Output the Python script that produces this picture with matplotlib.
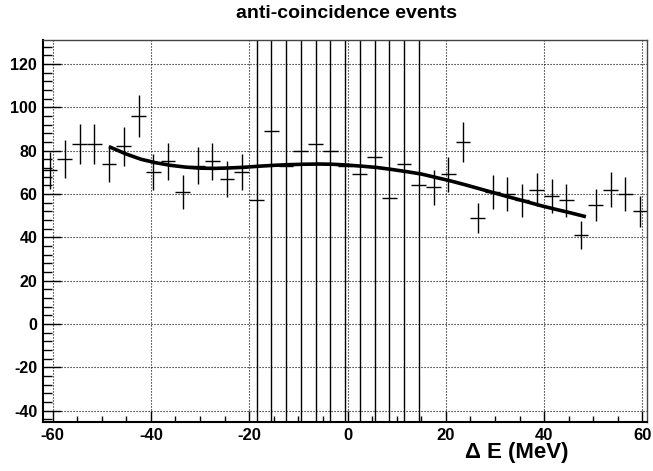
#!/usr/bin/env python3
import matplotlib
matplotlib.use('agg')
import matplotlib.pyplot as plt
from matplotlib.ticker import MultipleLocator
import numpy as np

plt.rcParams['font.family'] = ['Liberation Sans', 'DejaVu Sans']
plt.rcParams['font.weight'] = 'bold'
plt.rcParams['axes.unicode_minus'] = False

# histogram bins (width 3 MeV)
bin_lo = -62.0
bin_w = 3.0
counts = [71, 76, 83, 83, 74, 82, 96, 70, 75, 61,
          73, 75, 67, 70, 57, 89, 73, 80, 83, 80,
          73, 69, 77, 58, 74, 64, 63, 69, 84, 49,
          61, 60, 57, 62, 59, 57, 41, 55, 62, 60, 52]
errors = [8.5, 8.7, 9.1, 9.1, 8.6, 9.0, 9.8, 8.4, 8.7, 7.8,
          8.5, 8.7, 8.2, 8.4, 300, 300, 300, 300, 300, 300,
          300, 300, 300, 300, 300, 300, 7.9, 8.1, 9.2, 7.0,
          7.8, 7.7, 7.5, 7.7, 7.7, 7.5, 6.4, 7.4, 7.9, 7.7, 7.2]

# fitted background curve
fit_x = [-48.5, -45, -42, -39, -36, -33, -30, -27, -24, -21, -18, -15, -12,
         -9, -6, -3, 0, 3, 6, 9, 12, 15, 18, 21, 24, 27, 30, 33, 36, 39,
         42, 45, 48.5]
fit_y = [81.8, 78.4, 76.0, 74.4, 73.2, 72.4, 71.9, 71.8, 72.0, 72.3, 72.8,
         73.2, 73.5, 73.7, 73.8, 73.7, 73.3, 72.8, 72.2, 71.3, 70.3, 69.2,
         67.6, 66.0, 64.2, 62.3, 60.4, 58.5, 56.7, 54.8, 53.1, 51.5, 49.5]

centers = bin_lo + bin_w * (np.arange(len(counts)) + 0.5)

fig = plt.figure(figsize=(6.53, 4.71), dpi=100)
ax = fig.add_axes([0.0654, 0.104, 0.926, 0.811])

ax.errorbar(centers, counts, xerr=bin_w / 2, yerr=errors, fmt='none',
            ecolor='black', elinewidth=1.0, capsize=0)
ax.plot(fit_x, fit_y, color='black', lw=2.6, solid_capstyle='butt')

ax.set_xlim(-62, 61)
ax.set_ylim(-45.2, 131)

ax.xaxis.set_major_locator(MultipleLocator(20))
ax.xaxis.set_minor_locator(MultipleLocator(5))
ax.yaxis.set_major_locator(MultipleLocator(20))
ax.yaxis.set_minor_locator(MultipleLocator(4))
ax.grid(True, which='major', color='black', lw=0.8, linestyle=(0, (1, 1.7)))

ax.tick_params(axis='x', which='major', direction='in', length=8, width=1,
               labelsize=12, pad=4)
ax.tick_params(axis='x', which='minor', direction='in', length=4, width=1)
ax.tick_params(axis='y', which='major', direction='in', length=13, width=1,
               labelsize=11.5, pad=4)
ax.tick_params(axis='y', which='minor', direction='in', length=6.5, width=1)

for s in ['left', 'bottom']:
    ax.spines[s].set_linewidth(1.5)
for s in ['top', 'right']:
    ax.spines[s].set_linewidth(1.0)
    ax.spines[s].set_color('#444444')

fig.text(0.531, 0.972, 'anti-coincidence events', ha='center', va='center',
         fontsize=14, fontweight='bold')
fig.text(0.791, 0.04, '\u0394 E (MeV)', ha='center', va='center',
         fontsize=16, fontweight='bold')

fig.savefig('out.png', dpi=100)
